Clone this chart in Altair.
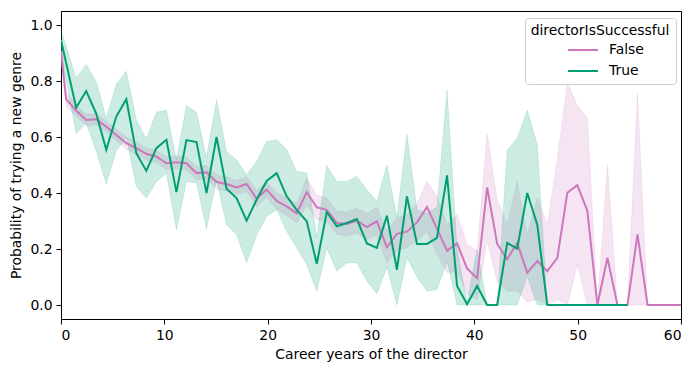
import altair as alt
import pandas as pd

# Career-year positions of the aggregated points
career_years = [0.00, 0.50, 1.47, 2.44, 3.41, 4.38, 5.35, 6.32, 7.29, 8.26, 9.23,
                10.20, 11.17, 12.14, 13.11, 14.08, 15.05, 16.02, 16.99, 17.96, 18.93,
                19.90, 20.87, 21.84, 22.81, 23.78, 24.75, 25.72, 26.69, 27.66, 28.63,
                29.60, 30.57, 31.54, 32.51, 33.48, 34.45, 35.42, 36.39, 37.36, 38.33,
                39.30, 40.27, 41.24, 42.21, 43.18, 44.15, 45.12, 46.09, 47.06, 48.03,
                49.00, 49.97, 50.94, 51.91, 52.88, 53.85, 54.82, 55.79, 56.76, 57.73,
                58.70, 59.67, 60.64]

# directorIsSuccessful = False
false_mean = [0.905, 0.735, 0.694, 0.661, 0.663, 0.637, 0.607, 0.578, 0.560, 0.540, 0.530,
              0.506, 0.510, 0.506, 0.471, 0.474, 0.439, 0.432, 0.420, 0.432, 0.380,
              0.412, 0.372, 0.352, 0.328, 0.403, 0.349, 0.340, 0.293, 0.289, 0.301,
              0.278, 0.299, 0.206, 0.254, 0.262, 0.295, 0.350, 0.273, 0.194, 0.220,
              0.130, 0.096, 0.420, 0.218, 0.163, 0.222, 0.115, 0.157, 0.121, 0.168,
              0.401, 0.428, 0.336, 0.000, 0.169, 0.000, 0.000, 0.252, 0.000, 0.000,
              0.000, 0.000, 0.000]
false_lo = [0.870, 0.710, 0.674, 0.641, 0.643, 0.617, 0.587, 0.556, 0.538, 0.518, 0.508,
            0.483, 0.487, 0.483, 0.447, 0.450, 0.414, 0.407, 0.395, 0.405, 0.352,
            0.384, 0.342, 0.320, 0.294, 0.355, 0.305, 0.298, 0.252, 0.246, 0.256,
            0.232, 0.250, 0.150, 0.195, 0.205, 0.230, 0.262, 0.181, 0.116, 0.120,
            0.038, 0.020, 0.228, 0.085, 0.050, 0.050, 0.010, 0.020, 0.000, 0.020,
            0.000, 0.144, 0.000, 0.000, 0.000, 0.000, 0.000, 0.000, 0.000, 0.000,
            0.000, 0.000, 0.000]
false_hi = [0.940, 0.760, 0.714, 0.681, 0.683, 0.657, 0.627, 0.600, 0.582, 0.562, 0.552,
            0.529, 0.533, 0.529, 0.495, 0.498, 0.464, 0.457, 0.445, 0.459, 0.408,
            0.440, 0.402, 0.384, 0.362, 0.453, 0.393, 0.382, 0.336, 0.332, 0.346,
            0.326, 0.350, 0.265, 0.312, 0.322, 0.362, 0.441, 0.388, 0.287, 0.323,
            0.216, 0.193, 0.613, 0.376, 0.287, 0.441, 0.250, 0.382, 0.287, 0.520,
            0.795, 0.712, 0.668, 0.000, 0.501, 0.000, 0.000, 0.754, 0.000, 0.000,
            0.000, 0.000, 0.000]

# directorIsSuccessful = True (None = no point at that career year)
true_mean = [0.946, None, 0.705, 0.764, 0.684, 0.554, 0.673, 0.735, 0.542, 0.479, 0.560,
             0.590, 0.403, 0.589, 0.582, 0.400, 0.600, 0.415, 0.382, 0.301, 0.376,
             0.443, 0.471, 0.388, 0.340, 0.299, 0.147, 0.332, 0.281, 0.293, 0.307,
             0.220, 0.204, 0.319, 0.126, 0.388, 0.218, 0.218, 0.240, 0.463, 0.068,
             0.003, 0.068, 0.000, 0.000, 0.222, 0.201, 0.400, 0.287, 0.000, 0.000,
             0.000, 0.000, 0.000, 0.000, 0.000, 0.000, 0.000, None, None, None,
             None, None, None]
true_lo = [0.900, None, 0.613, 0.649, 0.550, 0.432, 0.550, 0.600, 0.423, 0.382, 0.440,
           0.470, 0.269, 0.441, 0.437, 0.273, 0.447, 0.287, 0.252, 0.151, 0.249,
           0.317, 0.340, 0.263, 0.204, 0.145, 0.050, 0.204, 0.121, 0.151, 0.151,
           0.086, 0.040, 0.134, 0.000, 0.170, 0.100, 0.050, 0.055, 0.157, 0.000,
           0.000, 0.000, 0.000, 0.000, 0.000, 0.000, 0.103, 0.000, 0.000, 0.000,
           0.000, 0.000, 0.000, 0.000, 0.000, 0.000, 0.000, None, None, None,
           None, None, None]
true_hi = [0.982, None, 0.810, 0.859, 0.797, 0.667, 0.788, 0.835, 0.661, 0.593, 0.688,
           0.696, 0.518, 0.712, 0.688, 0.527, 0.732, 0.548, 0.518, 0.465, 0.512,
           0.584, 0.590, 0.555, 0.477, 0.471, 0.241, 0.498, 0.441, 0.441, 0.459,
           0.412, 0.370, 0.500, 0.311, 0.610, 0.340, 0.328, 0.350, 0.768, 0.200,
           0.010, 0.198, 0.000, 0.000, 0.554, 0.595, 0.696, 0.572, 0.000, 0.000,
           0.000, 0.000, 0.000, 0.000, 0.000, 0.000, 0.000, None, None, None,
           None, None, None]

series_names = ["False", "True"]
series_colors = ["#cc78bc", "#029e73"]
x_ticks = [0, 10, 20, 30, 40, 50, 60]
y_ticks = [0.0, 0.2, 0.4, 0.6, 0.8, 1.0]

rows = []
for name, means, los, his in [("False", false_mean, false_lo, false_hi),
                              ("True", true_mean, true_lo, true_hi)]:
    for xv, m, lo, hi in zip(career_years, means, los, his):
        if m is None:
            continue
        rows.append({"x": xv, "series": name, "mean": m, "lo": lo, "hi": hi})
df = pd.DataFrame(rows)

FONT = "DejaVu Sans"
FS = 13.9

x_enc = alt.X("x:Q", title="Career years of the director",
              scale=alt.Scale(domain=[0, 60], nice=False, zero=False),
              axis=alt.Axis(values=x_ticks, format="d"))
y_scale = alt.Scale(domain=[-0.05, 1.05], nice=False, zero=False)

base = alt.Chart(df)

bands = []
lines = []
for name, col in zip(series_names, series_colors):
    sub = base.transform_filter(alt.datum.series == name)
    bands.append(
        sub.mark_area(clip=True, orient="vertical", color=col, fillOpacity=0.2,
                      stroke=col, strokeOpacity=0.18, strokeWidth=0.8).encode(
            x=x_enc,
            y=alt.Y("lo:Q", scale=y_scale, title="Probability of trying a new genre",
                    axis=alt.Axis(values=y_ticks, format=".1f")),
            y2="hi:Q",
        )
    )
    lines.append(
        sub.mark_line(clip=True, strokeWidth=2).encode(
            x=x_enc,
            y=alt.Y("mean:Q", scale=y_scale),
            color=alt.Color("series:N",
                            scale=alt.Scale(domain=series_names, range=series_colors),
                            legend=alt.Legend(title="directorIsSuccessful", orient="none",
                                              legendX=464, legendY=7)),
        )
    )

chart = alt.layer(*bands, *lines).properties(
    width=620, height=308,
    autosize=alt.AutoSizeParams(type="none"),
    padding={"left": 53, "top": 3, "right": 10, "bottom": 50},
).configure_view(
    stroke="black", strokeWidth=1
).configure_axis(
    grid=False, domainColor="black", domainWidth=1, tickColor="black", tickWidth=1,
    tickSize=5, labelFont=FONT, labelFontSize=FS, labelColor="black", labelPadding=4,
    titleFont=FONT, titleFontSize=FS, titleFontWeight="normal", titleColor="black",
).configure_axisX(
    titlePadding=6
).configure_axisY(
    titlePadding=6
).configure_legend(
    titleFont=FONT, titleFontSize=FS, titleFontWeight="normal", titleColor="black",
    labelFont=FONT, labelFontSize=FS, labelColor="black",
    titleAnchor="middle", titlePadding=5,
    symbolType="stroke", symbolSize=900, symbolStrokeWidth=2,
    symbolOffset=10, labelOffset=10, clipHeight=14, rowPadding=7,
    padding=6, fillColor="white", strokeColor="#cccccc", strokeWidth=1, cornerRadius=3,
)

chart.save("out.html", embed_options={"renderer": "svg", "actions": False})
